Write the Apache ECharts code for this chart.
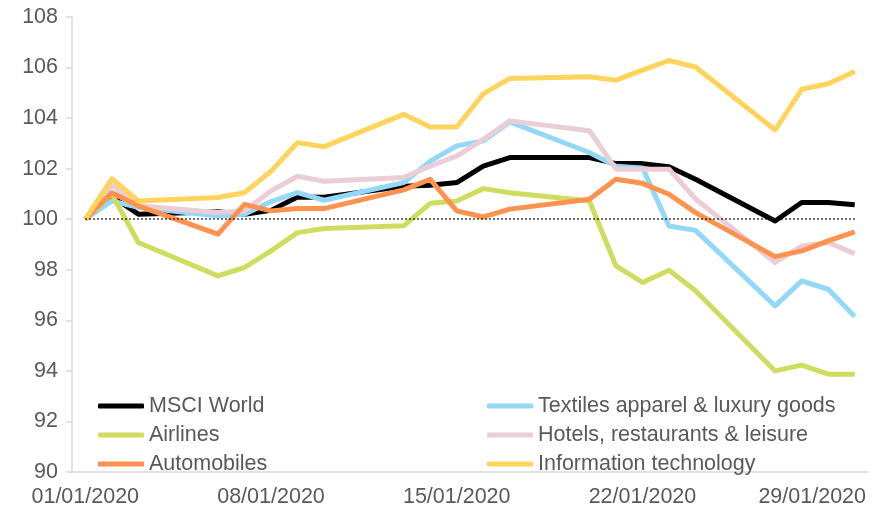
<!DOCTYPE html>
<html>
<head>
<meta charset="utf-8">
<script src="https://cdn.jsdelivr.net/npm/echarts@6/dist/echarts.min.js"></script>
<style>
  html, body { margin: 0; padding: 0; background: #fff; }
  #chart { width: 892px; height: 510px; }
</style>
</head>
<body>
<div id="chart"></div>
<script>
// every calendar day on the axis
var days = [
  '01/01/2020','02/01/2020','03/01/2020','04/01/2020','05/01/2020','06/01/2020','07/01/2020',
  '08/01/2020','09/01/2020','10/01/2020','11/01/2020','12/01/2020','13/01/2020','14/01/2020',
  '15/01/2020','16/01/2020','17/01/2020','18/01/2020','19/01/2020','20/01/2020','21/01/2020',
  '22/01/2020','23/01/2020','24/01/2020','25/01/2020','26/01/2020','27/01/2020','28/01/2020',
  '29/01/2020','30/01/2020'
];
// trading days that carry a value
var tradeDays = [
  '01/01/2020','02/01/2020','03/01/2020','06/01/2020','07/01/2020','08/01/2020','09/01/2020',
  '10/01/2020','13/01/2020','14/01/2020','15/01/2020','16/01/2020','17/01/2020','20/01/2020',
  '21/01/2020','22/01/2020','23/01/2020','24/01/2020','27/01/2020','28/01/2020','29/01/2020',
  '30/01/2020'
];
var msciWorld  = [100, 100.9, 100.2, 100.3, 100.2, 100.35, 100.88, 100.87, 101.3, 101.34, 101.45, 102.1, 102.44, 102.44, 102.2, 102.2, 102.08, 101.58, 99.93, 100.66, 100.66, 100.57];
var textiles   = [100, 100.72, 100.47, 100.13, 100.2, 100.7, 101.05, 100.75, 101.45, 102.3, 102.9, 103.1, 103.85, 102.64, 102.1, 102.03, 99.73, 99.56, 96.57, 97.56, 97.23, 96.15];
var airlines   = [100, 101.0, 99.08, 97.76, 98.09, 98.75, 99.47, 99.63, 99.74, 100.63, 100.72, 101.21, 101.05, 100.72, 98.15, 97.5, 97.98, 97.17, 94.0, 94.23, 93.87, 93.87];
var hotels     = [100, 101.35, 100.53, 100.27, 100.33, 101.12, 101.7, 101.5, 101.65, 102.1, 102.5, 103.16, 103.89, 103.5, 101.98, 101.98, 101.98, 100.8, 98.29, 98.94, 99.08, 98.64];
var autos      = [100, 101.05, 100.53, 99.41, 100.59, 100.33, 100.42, 100.42, 101.16, 101.58, 100.33, 100.09, 100.4, 100.79, 101.58, 101.42, 100.99, 100.26, 98.52, 98.75, 99.14, 99.5];
var infoTech   = [100, 101.6, 100.72, 100.86, 101.05, 101.9, 103.03, 102.87, 104.15, 103.65, 103.65, 104.96, 105.57, 105.64, 105.5, 105.9, 106.28, 106.02, 103.53, 105.14, 105.36, 105.84];
var baseLevel = 100;

var font = '"Liberation Sans", Arial, sans-serif';
var fontSize = 21.5;
var textColor = '#595959';
var axisColor = '#d9d9d9';

function pairs(vals) {
  return tradeDays.map(function (d, i) { return [d, vals[i]]; });
}

function line(name, vals, color) {
  return {
    name: name,
    type: 'line',
    data: pairs(vals),
    showSymbol: false,
    symbol: 'none',
    animation: false,
    lineStyle: { color: color, width: 5, join: 'round' },
    itemStyle: { color: color }
  };
}

var series = [
  line('MSCI World', msciWorld, '#000000'),
  line('Textiles apparel & luxury goods', textiles, '#93d8f6'),
  line('Airlines', airlines, '#cedd5f'),
  line('Hotels, restaurants & leisure', hotels, '#ebcdd8'),
  line('Automobiles', autos, '#ff924f'),
  line('Information technology', infoTech, '#ffd45c')
];
series[0].markLine = {
  silent: true,
  symbol: 'none',
  label: { show: false },
  z: 10,
  lineStyle: { color: '#000', type: [1.5, 2.5], width: 1.5 },
  data: [[{ coord: [days[0], baseLevel] }, { coord: [days[days.length - 1], baseLevel] }]]
};

var legendText = { color: textColor, fontSize: fontSize, fontFamily: font, lineHeight: 22 };

var myChart = echarts.init(document.getElementById('chart'));
myChart.setOption({
  animation: false,
  grid: { left: 72, right: 24, top: 17, bottom: 38 },
  legend: [
    {
      orient: 'vertical', left: 93, top: 390,
      itemWidth: 46, itemHeight: 5, itemGap: 7, icon: 'roundRect',
      textStyle: legendText,
      data: ['MSCI World', 'Airlines', 'Automobiles']
    },
    {
      orient: 'vertical', left: 482, top: 390,
      itemWidth: 46, itemHeight: 5, itemGap: 7, icon: 'roundRect',
      textStyle: legendText,
      data: ['Textiles apparel & luxury goods', 'Hotels, restaurants & leisure', 'Information technology']
    }
  ],
  xAxis: {
    type: 'category',
    data: days,
    boundaryGap: true,
    axisLine: { lineStyle: { color: axisColor, width: 1.5 } },
    axisTick: { interval: 6, length: 6, lineStyle: { color: axisColor, width: 1.5 } },
    axisLabel: {
      interval: 6, color: textColor, fontSize: fontSize, fontFamily: font, margin: 14,
      // last label is pushed left so it stays inside the frame
      formatter: function (v, i) { return i === 28 ? '{last|' + v + '}' : v; },
      rich: { last: { color: textColor, fontSize: fontSize, fontFamily: font, padding: [0, 32, 0, 0] } }
    },
    splitLine: { show: false }
  },
  yAxis: {
    type: 'value',
    min: 90, max: 108, interval: 2,
    axisLine: { show: true, lineStyle: { color: axisColor, width: 1.5 } },
    axisTick: { show: true, length: 6, lineStyle: { color: axisColor, width: 1.5 } },
    axisLabel: { color: textColor, fontSize: fontSize, fontFamily: font, margin: 14 },
    splitLine: { show: false }
  },
  series: series
});
</script>
</body>
</html>
